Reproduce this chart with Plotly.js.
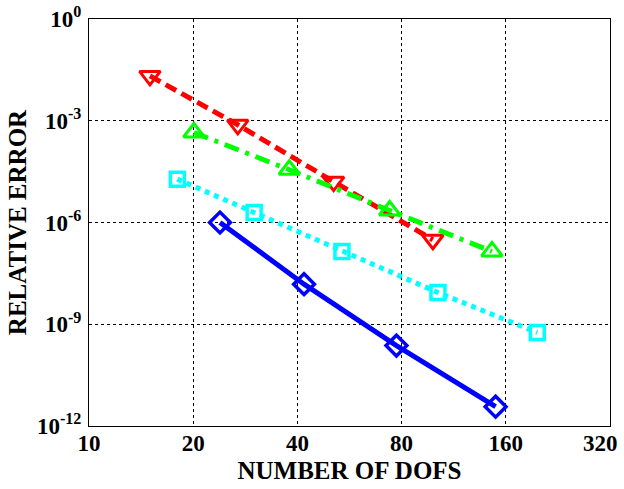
<!DOCTYPE html>
<html>
<head>
<meta charset="utf-8">
<script src="https://cdn.plot.ly/plotly-3.0.1.min.js"></script>
<style>html,body{margin:0;padding:0;background:#fff;}#chart{width:624px;height:489px;}</style>
</head>
<body>
<div id="chart"></div>
<script>
// Data
const redDofs = [15.0, 26.9, 50.9, 98.5];
const redErr = [2.1e-2, 7.6e-4, 1.6e-5, 3.1e-7];

const greenDofs = [20.1, 37.9, 73.9, 145.9];
const greenErr = [4.5e-4, 3.6e-5, 2.26e-6, 1.4e-7];

const cyanDofs = [18.0, 30.0, 53.8, 101.9, 197.3];
const cyanErr = [1.9e-5, 1.97e-6, 1.4e-7, 8.6e-9, 5.7e-10];

const blueDofs = [23.9, 41.8, 77.3, 149.5];
const blueErr = [1.0e-6, 1.52e-8, 2.35e-10, 3.7e-12];

const xTickVals = [10, 20, 40, 80, 160, 320];
const xTickText = ["10", "20", "40", "80", "160", "320"];
const yTickVals = [1, 1e-3, 1e-6, 1e-9, 1e-12];
const yTickText = ["10<sup>0</sup>", "10<sup>-3</sup>", "10<sup>-6</sup>", "10<sup>-9</sup>", "10<sup>-12</sup>"];

const fontFam = "Liberation Serif, Times New Roman, serif";
const tickFont = {family: fontFam, size: 23, weight: "bold", color: "#000"};

// The last x label sits at the right edge; it is drawn as an annotation kept inside the page
const lastIdx = xTickVals.length - 1;
const axisTickText = xTickText.map((t, i) => i === lastIdx ? "" : t);

const traces = [
  {x: redDofs, y: redErr, mode: "lines+markers", name: "red",
   line: {color: "#ff0000", width: 5, dash: "12px,6px"},
   marker: {symbol: "triangle-down-open", size: 18, color: "#ff0000", line: {width: 3, color: "#ff0000"}}},
  {x: greenDofs, y: greenErr, mode: "lines+markers", name: "green",
   line: {color: "#00ff00", width: 5, dash: "15px,7px,4px,7px"},
   marker: {symbol: "triangle-up-open", size: 18, color: "#00ff00", line: {width: 3, color: "#00ff00"}}},
  {x: cyanDofs, y: cyanErr, mode: "lines+markers", name: "cyan",
   line: {color: "#00ffff", width: 5, dash: "5px,5px"},
   marker: {symbol: "square-open", size: 14, color: "#00ffff", line: {width: 3.5, color: "#00ffff"}}},
  {x: blueDofs, y: blueErr, mode: "lines+markers", name: "blue",
   line: {color: "#0000ff", width: 5},
   marker: {symbol: "diamond-open", size: 16, color: "#0000ff", line: {width: 3.5, color: "#0000ff"}}}
];

const layout = {
  width: 624, height: 489,
  margin: {l: 89, r: 14, t: 19, b: 63},
  paper_bgcolor: "#fff", plot_bgcolor: "#fff",
  showlegend: false,
  font: {family: fontFam, color: "#000", size: 23, weight: "bold"},
  xaxis: {
    type: "log", range: [1 - 1e-6, Math.log10(320) + 1e-6],
    tickvals: xTickVals, ticktext: axisTickText,
    tickfont: tickFont,
    ticklabeloverflow: "allow", ticklabelstandoff: -4,
    showline: true, mirror: true, linecolor: "#000", linewidth: 1,
    showgrid: true, gridcolor: "#000", griddash: "dot", gridwidth: 1,
    zeroline: false, ticks: "",
    title: {text: "NUMBER OF DOFS", font: {family: fontFam, size: 25, weight: "bold", color: "#000"}, standoff: 6}
  },
  yaxis: {
    type: "log", range: [-12 - 1e-6, 1e-6],
    tickvals: yTickVals, ticktext: yTickText,
    tickfont: tickFont,
    ticklabeloverflow: "allow",
    showline: true, mirror: true, linecolor: "#000", linewidth: 1,
    showgrid: true, gridcolor: "#000", griddash: "dot", gridwidth: 1,
    zeroline: false, ticks: "", ticklabelstandoff: 2,
    title: {text: "RELATIVE ERROR", font: {family: fontFam, size: 25, weight: "bold", color: "#000"}, standoff: 3}
  },
  annotations: [{
    x: Math.log10(xTickVals[lastIdx]), xref: "x", xanchor: "right", xshift: 9,
    y: 0, yref: "paper", yanchor: "middle", yshift: -17,
    text: xTickText[lastIdx], showarrow: false, font: tickFont, borderpad: 0
  }]
};

Plotly.newPlot("chart", traces, layout, {displayModeBar: false, staticPlot: true});
</script>
</body>
</html>
